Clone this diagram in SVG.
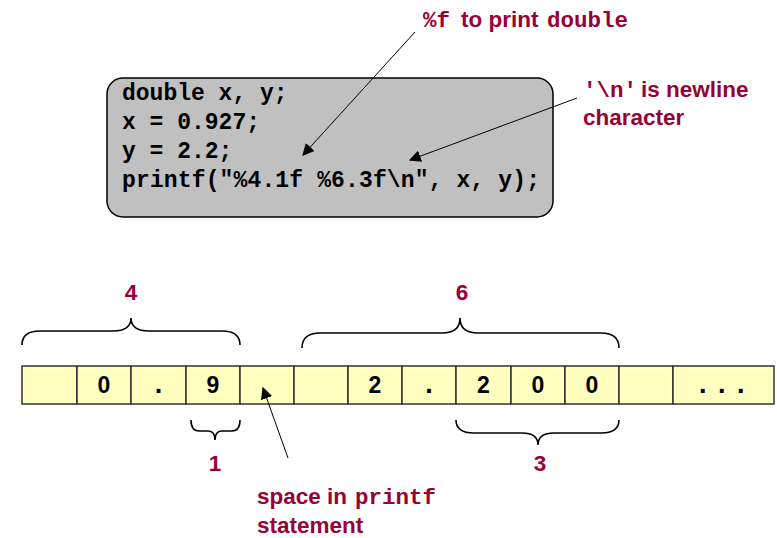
<svg xmlns="http://www.w3.org/2000/svg" width="777" height="538" viewBox="0 0 777 538">
<style>
.code{font-family:"Liberation Mono",monospace;font-weight:bold;font-size:23px;fill:#000}
.lbl{font-family:"Liberation Sans",Arial,sans-serif;font-weight:bold;font-size:22.5px;fill:#990033}
.lm{font-family:"Liberation Mono",monospace;font-weight:bold;font-size:22.5px;fill:#990033}
.cell{fill:#ffffc0;stroke:#333;stroke-width:1.5}
.ct{font-family:"Liberation Sans",Arial,sans-serif;font-weight:bold;font-size:23px;fill:#000;text-anchor:middle}
.brace{fill:none;stroke:#000;stroke-width:1.6}
.arr{stroke:#000;stroke-width:1;fill:none}
</style>
<defs>
<marker id="ah" viewBox="0 0 10 10" refX="9" refY="5" markerWidth="12" markerHeight="12" markerUnits="userSpaceOnUse" orient="auto">
<path d="M0,0 L10,5 L0,10 z" fill="#000"/>
</marker>
</defs>
<g id="codebox">
<rect x="107" y="78" width="446" height="139" rx="16" ry="16" fill="#c0c0c0" stroke="#000" stroke-width="1.5"/>
<text class="code" x="122" y="100">double x, y;</text>
<text class="code" x="122" y="129">x = 0.927;</text>
<text class="code" x="122" y="158">y = 2.2;</text>
<text class="code" x="122" y="187" textLength="418" lengthAdjust="spacing">printf("%4.1f %6.3f\n", x, y);</text>
</g>
<g id="label-f">
<text y="27"><tspan class="lm" x="423">%f</tspan><tspan class="lbl" x="461">to print</tspan><tspan class="lm" x="547">double</tspan></text>
</g>
<g id="label-n">
<text y="97"><tspan class="lm" x="583">'\n'</tspan><tspan class="lbl" x="641">is newline</tspan></text>
<text class="lbl" x="583" y="125">character</text>
</g>
<g id="cells">
<rect class="cell" x="22" y="366" width="55" height="38"/>
<rect class="cell" x="77" y="366" width="54" height="38"/>
<rect class="cell" x="131" y="366" width="55" height="38"/>
<rect class="cell" x="186" y="366" width="54" height="38"/>
<rect class="cell" x="240" y="366" width="54" height="38"/>
<rect class="cell" x="294" y="366" width="54" height="38"/>
<rect class="cell" x="348" y="366" width="54" height="38"/>
<rect class="cell" x="402" y="366" width="54" height="38"/>
<rect class="cell" x="456" y="366" width="55" height="38"/>
<rect class="cell" x="511" y="366" width="54" height="38"/>
<rect class="cell" x="565" y="366" width="54" height="38"/>
<rect class="cell" x="619" y="366" width="54" height="38"/>
<rect class="cell" x="673" y="366" width="101" height="38"/>
<text class="ct" x="104" y="393">0</text>
<text class="ct" x="158.5" y="393" style="font-size:27px">.</text>
<text class="ct" x="213" y="393">9</text>
<text class="ct" x="375" y="393">2</text>
<text class="ct" x="429" y="393" style="font-size:27px">.</text>
<text class="ct" x="483.5" y="393">2</text>
<text class="ct" x="538" y="393">0</text>
<text class="ct" x="592" y="393">0</text>
<text class="ct" x="699" y="393" style="text-anchor:start;font-size:27px;letter-spacing:11.5px">...</text>
</g>
<g id="brace-4">
<path class="brace" d="M22,345 Q22,331 40,331 L113,331 Q131,331 131,318 Q131,331 149,331 L222,331 Q240,331 240,345"/>
<text class="lbl" x="131" y="300" text-anchor="middle">4</text>
</g>
<g id="brace-6">
<path class="brace" d="M302,348 Q302,333 320,333 L442,333 Q460,333 460,318 Q460,333 478,333 L601,333 Q619,333 619,348"/>
<text class="lbl" x="462" y="300" text-anchor="middle">6</text>
</g>
<g id="brace-1">
<path class="brace" d="M191,420 Q191,431 199,431 L208,431 Q215,431 215,440 Q215,431 222,431 L232,431 Q240,431 240,420"/>
<text class="lbl" x="215" y="471" text-anchor="middle">1</text>
</g>
<g id="brace-3">
<path class="brace" d="M456,420 Q456,433 474,433 L522,433 Q538,433 538,445 Q538,433 554,433 L601,433 Q619,433 619,420"/>
<text class="lbl" x="540" y="471" text-anchor="middle">3</text>
</g>
<g id="label-space">
<text y="504"><tspan class="lbl" x="257">space in</tspan><tspan class="lm" x="355">printf</tspan></text>
<text class="lbl" x="257" y="533">statement</text>
</g>
<g id="connectors">
<line class="arr" x1="415" y1="32" x2="303" y2="155" marker-end="url(#ah)"/>
<line class="arr" x1="577" y1="98" x2="410" y2="160" marker-end="url(#ah)"/>
<line class="arr" x1="288" y1="458" x2="263" y2="388" marker-end="url(#ah)"/>
</g>
</svg>
